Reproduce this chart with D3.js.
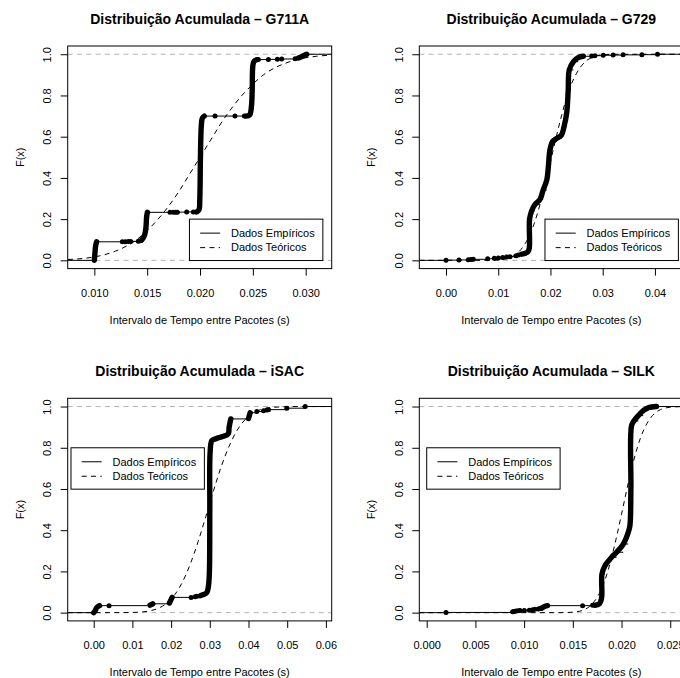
<!DOCTYPE html>
<html><head><meta charset="utf-8">
<script src="https://cdn.jsdelivr.net/npm/d3@7"></script>
<style>
html,body{margin:0;padding:0;background:#fff;}
svg{display:block;}
text{font-family:"Liberation Sans", Arial, Helvetica, sans-serif;fill:#000;}
</style>
</head><body>
<svg id="c" width="680" height="678"></svg>
<script>
// ---------------- DATA ----------------
const titles = ["Distribuição Acumulada – G711A", "Distribuição Acumulada – G729",
                "Distribuição Acumulada – iSAC", "Distribuição Acumulada – SILK"];
const xAxisTitle = "Intervalo de Tempo entre Pacotes (s)";
const yAxisTitle = "F(x)";
const legendLabels = ["Dados Empíricos", "Dados Teóricos"];

const yTicks = [0, 0.2, 0.4, 0.6, 0.8, 1.0];
const yTickLabels = ["0.0", "0.2", "0.4", "0.6", "0.8", "1.0"];

// G711A
const g711aTicks = [0.010, 0.015, 0.020, 0.025, 0.030];
const g711aTickLabels = ["0.010", "0.015", "0.020", "0.025", "0.030"];
const g711aDots = [[0.01265,0.090],[0.01293,0.090],[0.01322,0.091],[0.01344,0.092],[0.01416,0.093],[0.01440,0.095],
  [0.01716,0.233],[0.01748,0.233],[0.01770,0.234],[0.01786,0.234],[0.01874,0.235],[0.01937,0.235],
  [0.02142,0.700],[0.02331,0.700],[0.02420,0.700],
  [0.02552,0.974],[0.02647,0.975],[0.02732,0.976],[0.02773,0.977],[0.02900,0.978]];
const g711aRuns = [
  [[0.01000,0.000],[0.01005,0.030],[0.01012,0.070],[0.01022,0.090]],
  [[0.01448,0.099],[0.01464,0.110],[0.01480,0.131],[0.01489,0.163],[0.01495,0.212],[0.01502,0.233]],
  [[0.01969,0.235],[0.01990,0.245],[0.01998,0.300],[0.02004,0.500],[0.02012,0.650],[0.02022,0.690],[0.02040,0.700]],
  [[0.02435,0.700],[0.02470,0.706],[0.02487,0.750],[0.02494,0.830],[0.02499,0.940],[0.02510,0.965],[0.02535,0.973]],
  [[0.02931,0.982],[0.02960,0.988],[0.02990,0.995],[0.03010,1.000]]];
const g711aTheoX = [0.0075,0.009,0.010,0.011,0.012,0.013,0.014,0.015,0.016,0.017,0.018,0.019,0.020,0.021,0.022,0.023,0.024,0.025,0.026,0.027,0.028,0.029,0.030,0.031,0.0325];
const g711aTheoY = [0.004,0.0096,0.0166,0.028,0.0446,0.068,0.100,0.145,0.198,0.261,0.334,0.417,0.500,0.583,0.666,0.739,0.802,0.855,0.900,0.932,0.955,0.972,0.983,0.990,0.996];

// G729
const g729Ticks = [0.00, 0.01, 0.02, 0.03, 0.04];
const g729TickLabels = ["0.00", "0.01", "0.02", "0.03", "0.04"];
const g729Dots = [[0.0,0.001],[0.00249,0.002],[0.00427,0.003],[0.00479,0.004],[0.00523,0.005],[0.00798,0.008],
  [0.00925,0.010],[0.01002,0.012],[0.01085,0.014],[0.01161,0.016],[0.01225,0.018],[0.01340,0.022],[0.01384,0.026],
  [0.02790,0.992],[0.02850,0.993],[0.03010,0.995],[0.03200,0.996],[0.03390,0.997],[0.03750,0.998],[0.04050,1.000]];
const g729Runs = [
  [[0.01448,0.030],[0.01520,0.035],[0.01570,0.042],[0.01595,0.060],[0.01600,0.200],[0.01640,0.240],[0.01700,0.270],
   [0.01800,0.296],[0.01860,0.341],[0.01930,0.390],[0.01960,0.455],[0.01990,0.536],[0.02040,0.576],[0.02120,0.592],
   [0.02210,0.608],[0.02260,0.649],[0.02310,0.714],[0.02340,0.827],[0.02360,0.924],[0.02440,0.964],[0.02530,0.984],[0.02630,0.990]]];
const g729TheoX = [-0.0051,0.008,0.010,0.012,0.013,0.014,0.015,0.016,0.017,0.018,0.019,0.020,0.021,0.022,0.023,0.024,0.025,0.026,0.027,0.028,0.030,0.032,0.0454];
const g729TheoY = [0,0.0003,0.0023,0.011,0.023,0.043,0.075,0.121,0.187,0.271,0.370,0.478,0.587,0.690,0.782,0.855,0.908,0.946,0.971,0.985,0.997,0.9995,1.0];

// iSAC
const isacTicks = [0.00, 0.01, 0.02, 0.03, 0.04, 0.05, 0.06];
const isacTickLabels = ["0.00", "0.01", "0.02", "0.03", "0.04", "0.05", "0.06"];
const isacDots = [[0.00397,0.034],[0.02517,0.074],[0.02621,0.077],[0.02664,0.079],
  [0.04216,0.976],[0.04388,0.980],[0.04474,0.983],[0.04517,0.985],[0.04991,0.992],[0.05466,1.000]];
const isacRuns = [
  [[0.0,0.000],[0.0004,0.010],[0.0008,0.025],[0.0015,0.034]],
  [[0.01457,0.036],[0.01526,0.043]],
  [[0.01957,0.047],[0.01990,0.060],[0.02026,0.074]],
  [[0.02750,0.082],[0.02836,0.088],[0.02922,0.097],[0.02966,0.130],[0.02990,0.200],[0.03000,0.500],[0.03009,0.780],
   [0.03052,0.835],[0.03138,0.843],[0.03267,0.851],[0.03353,0.856],[0.03440,0.862],[0.03483,0.870],[0.03500,0.900],[0.03543,0.940]],
  [[0.04000,0.942],[0.04043,0.970]]];
const isacTheoX = [-0.0067,0.005,0.010,0.013,0.015,0.017,0.019,0.021,0.023,0.025,0.027,0.029,0.031,0.033,0.035,0.037,0.039,0.041,0.043,0.045,0.048,0.052,0.0615];
const isacTheoY = [0,0.0001,0.001,0.0044,0.0107,0.0237,0.0478,0.0885,0.151,0.238,0.346,0.468,0.594,0.711,0.808,0.883,0.934,0.966,0.984,0.993,0.998,1.0,1.0];

// SILK
const silkTicks = [0.000, 0.005, 0.010, 0.015, 0.020, 0.025];
const silkTickLabels = ["0.000", "0.005", "0.010", "0.015", "0.020", "0.025"];
const silkDots = [[0.00198,0.001],[0.00882,0.005],[0.00896,0.006],[0.00917,0.008],[0.00940,0.009],[0.00958,0.010],
  [0.01002,0.011],[0.01053,0.012],[0.01088,0.014],[0.01111,0.016],[0.01146,0.018],[0.01163,0.020],
  [0.01600,0.034],[0.01703,0.036]];
const silkRuns = [
  [[0.01180,0.022],[0.01210,0.030],[0.01240,0.034]],
  [[0.01727,0.036],[0.01770,0.042],[0.01795,0.070],[0.01799,0.188],[0.01830,0.228],[0.01864,0.250],[0.01898,0.269],
   [0.01949,0.293],[0.02018,0.333],[0.02069,0.390],[0.02086,0.422],[0.02096,0.600],[0.02103,0.908],[0.02127,0.930],
   [0.02172,0.956],[0.02223,0.980],[0.02274,0.994],[0.02360,1.000]]];
const silkTheoX = [-0.0008,0.013,0.014,0.015,0.016,0.017,0.0175,0.018,0.0185,0.019,0.0195,0.020,0.0205,0.021,0.0215,0.022,0.0225,0.023,0.0235,0.024,0.025,0.026,0.0264];
const silkTheoY = [0,0,0.0003,0.0023,0.0113,0.0427,0.0749,0.121,0.187,0.271,0.370,0.478,0.588,0.691,0.782,0.855,0.908,0.946,0.971,0.985,0.9967,0.9995,1.0];

// ---------------- LAYOUT ----------------
const colOff = [0, 351.6], rowOff = [0, 352.3];
const boxL = 67.7, boxT = 46, boxW = 264, boxH = 222.6;

const panels = [
  {title: titles[0], dom: [0.00748, 0.03246], ticks: g711aTicks, labels: g711aTickLabels, dots: g711aDots, runs: g711aRuns, tx: g711aTheoX, ty: g711aTheoY, leg: [0.019, 0.2], c: 0, r: 0},
  {title: titles[1], dom: [-0.00511, 0.04543], ticks: g729Ticks, labels: g729TickLabels, dots: g729Dots, runs: g729Runs, tx: g729TheoX, ty: g729TheoY, leg: [0.01895, 0.2], c: 1, r: 0},
  {title: titles[2], dom: [-0.00672, 0.0615], ticks: isacTicks, labels: isacTickLabels, dots: isacDots, runs: isacRuns, tx: isacTheoX, ty: isacTheoY, leg: [-0.00587, 0.8], c: 0, r: 1},
  {title: titles[3], dom: [-0.00076, 0.02634], ticks: silkTicks, labels: silkTickLabels, dots: silkDots, runs: silkRuns, tx: silkTheoX, ty: silkTheoY, leg: [0.0, 0.8], c: 1, r: 1}
];

const svg = d3.select("#c");
svg.append("rect").attr("width", 680).attr("height", 678).attr("fill", "#fff");

panels.forEach((p, i) => {
  const L = boxL + colOff[p.c], T = boxT + rowOff[p.r];
  const R = L + boxW, B = T + boxH;
  const x = d3.scaleLinear().domain(p.dom).range([L, R]);
  const y = d3.scaleLinear().domain([-0.04, 1.04]).range([B, T]);
  const g = svg.append("g");

  const clipId = "clip" + i;
  g.append("clipPath").attr("id", clipId).append("rect")
    .attr("x", L).attr("y", T).attr("width", boxW).attr("height", boxH);
  const pg = g.append("g").attr("clip-path", `url(#${clipId})`);

  // gray reference lines at 0 and 1
  pg.selectAll("line.ref").data([0, 1]).join("line")
    .attr("x1", L).attr("x2", R).attr("y1", d => y(d)).attr("y2", d => y(d))
    .attr("stroke", "#b3b3b3").attr("stroke-width", 1).attr("stroke-dasharray", "5,4.3");

  // step segments
  const pts = p.dots.concat(...p.runs).slice().sort((a, b) => a[0] - b[0]);
  const segs = [];
  segs.push([p.dom[0], pts[0][0], 0]);
  for (let k = 0; k < pts.length - 1; k++) segs.push([pts[k][0], pts[k + 1][0], pts[k][1]]);
  segs.push([pts[pts.length - 1][0], p.dom[1], 1]);
  pg.selectAll("line.step").data(segs).join("line")
    .attr("x1", d => x(d[0])).attr("x2", d => x(d[1]))
    .attr("y1", d => y(d[2])).attr("y2", d => y(d[2]))
    .attr("stroke", "#000").attr("stroke-width", 1);

  // dense runs of points
  pg.selectAll("path.run").data(p.runs).join("path")
    .attr("d", d => d3.line().x(e => x(e[0])).y(e => y(e[1])).curve(d3.curveCatmullRom)(d))
    .attr("fill", "none").attr("stroke", "#000").attr("stroke-width", 5.4)
    .attr("stroke-linecap", "round").attr("stroke-linejoin", "round");

  // isolated points
  pg.selectAll("circle.dot").data(p.dots).join("circle")
    .attr("cx", d => x(d[0])).attr("cy", d => y(d[1])).attr("r", 2.5).attr("fill", "#000");

  // theoretical curve
  const theo = p.tx.map((v, k) => [v, p.ty[k]]);
  pg.append("path").attr("d", d3.line().x(d => x(d[0])).y(d => y(d[1])).curve(d3.curveMonotoneX)(theo))
    .attr("fill", "none").attr("stroke", "#000").attr("stroke-width", 1).attr("stroke-dasharray", "5,4.3");

  // box
  g.append("rect").attr("x", L).attr("y", T).attr("width", boxW).attr("height", boxH)
    .attr("fill", "none").attr("stroke", "#000").attr("stroke-width", 1);

  // x axis
  const xa = g.append("g").attr("transform", `translate(0,${B})`)
    .call(d3.axisBottom(x).tickValues(p.ticks).tickFormat((d, k) => p.labels[k]).tickSize(7).tickPadding(10));
  xa.select(".domain").remove();
  xa.selectAll("line").attr("stroke", "#000");
  xa.selectAll("text").attr("font-size", "11px").attr("fill", "#000")
    .attr("dy", null).attr("y", 28).attr("font-family", '"Liberation Sans", Arial, sans-serif');

  // y axis
  const ya = g.append("g").attr("transform", `translate(${L},0)`)
    .call(d3.axisLeft(y).tickValues(yTicks).tickFormat((d, k) => yTickLabels[k]).tickSize(7));
  ya.select(".domain").remove();
  ya.selectAll("line").attr("stroke", "#000");
  ya.selectAll("text").attr("font-size", "11px").attr("fill", "#000")
    .attr("x", null).attr("dy", null).attr("text-anchor", "middle")
    .attr("transform", "translate(-16.7,0) rotate(-90)")
    .attr("font-family", '"Liberation Sans", Arial, sans-serif');

  // titles
  g.append("text").attr("x", (L + R) / 2).attr("y", T - 22).attr("text-anchor", "middle")
    .attr("font-size", "14px").attr("font-weight", "bold").text(p.title);
  g.append("text").attr("x", (L + R) / 2).attr("y", B + 55).attr("text-anchor", "middle")
    .attr("font-size", "11px").text(xAxisTitle);
  g.append("text").attr("transform", `translate(${L - 44.2},${(T + B) / 2}) rotate(-90)`)
    .attr("text-anchor", "middle").attr("font-size", "11px").text(yAxisTitle);

  // legend
  const lx = x(p.leg[0]), ly = y(p.leg[1]);
  const lg = g.append("g");
  lg.append("rect").attr("x", lx).attr("y", ly).attr("width", 133.4).attr("height", 41.4)
    .attr("fill", "#fff").attr("stroke", "#000").attr("stroke-width", 1);
  legendLabels.forEach((lab, k) => {
    const yy = ly + 14 + k * 14.5;
    lg.append("line").attr("x1", lx + 10.7).attr("x2", lx + 30.7).attr("y1", yy).attr("y2", yy)
      .attr("stroke", "#000").attr("stroke-width", 1)
      .attr("stroke-dasharray", k === 1 ? "5,4.3" : null);
    lg.append("text").attr("x", lx + 41.5).attr("y", yy).attr("dy", "0.35em")
      .attr("font-size", "11px").text(lab);
  });
});
</script>
</body></html>
